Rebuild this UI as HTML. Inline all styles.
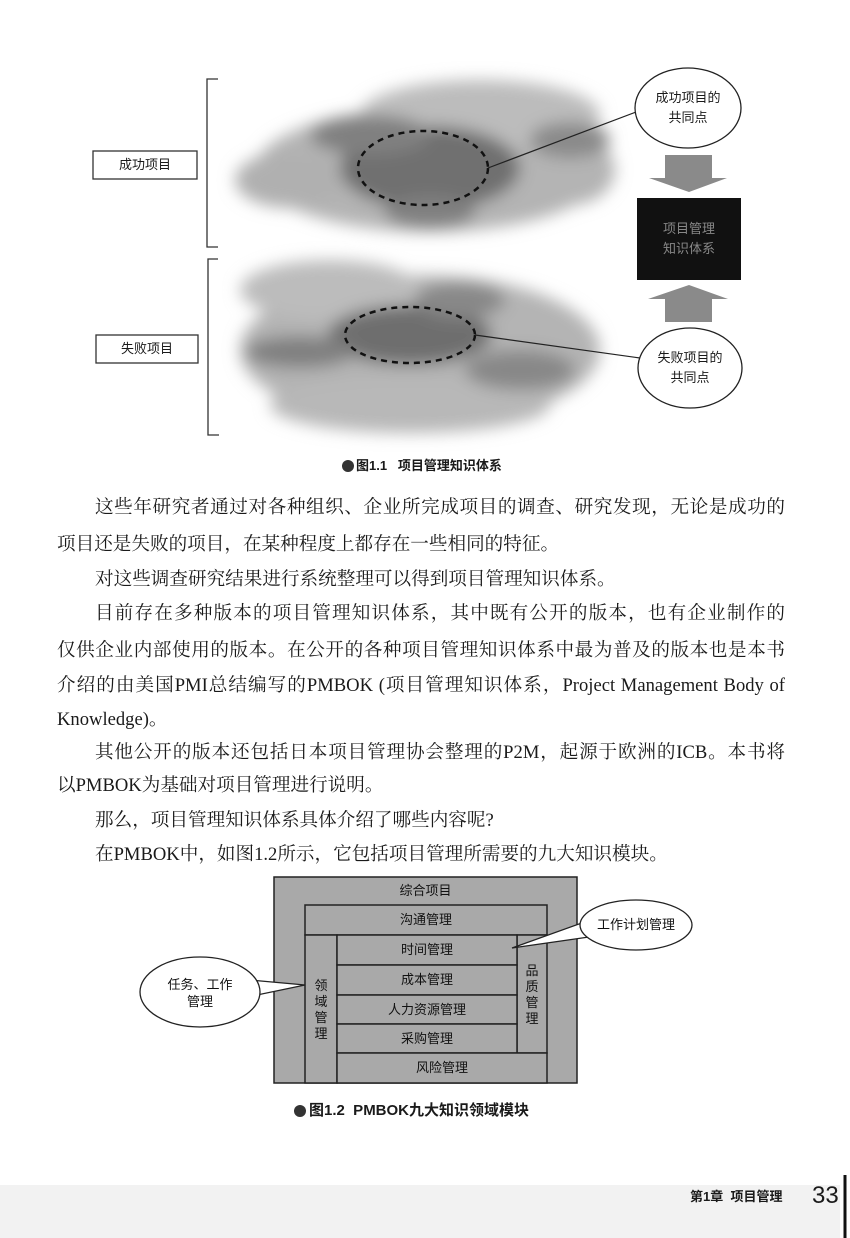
<!DOCTYPE html>
<html><head><meta charset="utf-8"><style>
html,body{margin:0;padding:0;background:#fff}
body{width:850px;height:1238px;position:relative;overflow:hidden;font-family:"Liberation Serif","Noto Serif CJK SC",serif;color:#1a1a1a}
.l{position:absolute;font-size:18.6px;line-height:24px;white-space:nowrap;height:24px}
.j{text-align:justify;text-align-last:justify}
.s{font-family:"Liberation Sans","Noto Sans CJK SC",sans-serif}
</style></head><body>
<svg width="850" height="1238" style="position:absolute;left:0;top:0">
<defs>
<filter id="b" x="-30%" y="-30%" width="160%" height="160%"><feGaussianBlur stdDeviation="8"/></filter>
</defs>
<path d="M218 79 H207 V247 H218" fill="none" stroke="#333" stroke-width="1.3"/>
<path d="M218 259 H208 V435 H219" fill="none" stroke="#333" stroke-width="1.3"/>
<rect x="93" y="151" width="104" height="28" fill="#fff" stroke="#333" stroke-width="1.3"/>
<rect x="96" y="335" width="102" height="28" fill="#fff" stroke="#333" stroke-width="1.3"/>
<g filter="url(#b)">
<ellipse cx="430" cy="170" rx="175" ry="62" fill="#b4b4b4"/>
<ellipse cx="480" cy="115" rx="120" ry="35" fill="#bcbcbc"/>
<ellipse cx="290" cy="180" rx="55" ry="28" fill="#b0b0b0"/>
<ellipse cx="570" cy="170" rx="45" ry="35" fill="#b4b4b4"/>
<ellipse cx="430" cy="168" rx="90" ry="42" fill="#707070"/>
<ellipse cx="370" cy="135" rx="60" ry="20" fill="#808080"/>
<ellipse cx="570" cy="140" rx="40" ry="18" fill="#8a8a8a"/>
<ellipse cx="430" cy="212" rx="45" ry="16" fill="#808080"/>
</g>
<g filter="url(#b)">
<ellipse cx="420" cy="350" rx="180" ry="75" fill="#b4b4b4"/>
<ellipse cx="330" cy="290" rx="90" ry="30" fill="#bcbcbc"/>
<ellipse cx="410" cy="405" rx="140" ry="28" fill="#b8b8b8"/>
<ellipse cx="410" cy="335" rx="82" ry="30" fill="#6e6e6e"/>
<ellipse cx="300" cy="352" rx="55" ry="16" fill="#808080"/>
<ellipse cx="460" cy="300" rx="45" ry="18" fill="#888"/>
<ellipse cx="520" cy="370" rx="55" ry="20" fill="#888"/>
</g>
<ellipse cx="423" cy="168" rx="65" ry="37" fill="none" stroke="#111" stroke-width="2.5" stroke-dasharray="6,5"/>
<ellipse cx="410" cy="335" rx="65" ry="28" fill="none" stroke="#111" stroke-width="2.5" stroke-dasharray="6,5"/>
<line x1="488" y1="168" x2="636" y2="112" stroke="#222" stroke-width="1.2"/>
<line x1="475" y1="335" x2="640" y2="358" stroke="#222" stroke-width="1.2"/>
<ellipse cx="688" cy="108" rx="53" ry="40" fill="#fff" stroke="#222" stroke-width="1.3"/>
<ellipse cx="690" cy="368" rx="52" ry="40" fill="#fff" stroke="#222" stroke-width="1.3"/>
<polygon points="665,155 712,155 712,178 727,178 689,192 649,178 665,178" fill="#8a8a8a"/>
<polygon points="689,285 728,299 712,299 712,322 665,322 665,299 648,299" fill="#8a8a8a"/>
<rect x="637" y="198" width="104" height="82" fill="#111"/>
<g stroke="#222" stroke-width="1.5" fill="#a9a9a9">
<rect x="274" y="877" width="303" height="206"/>
<rect x="305" y="905" width="242" height="30"/>
<rect x="305" y="935" width="32" height="148"/>
<rect x="517" y="935" width="30" height="118"/>
<rect x="337" y="935" width="180" height="30"/>
<rect x="337" y="965" width="180" height="30"/>
<rect x="337" y="995" width="180" height="29"/>
<rect x="337" y="1024" width="180" height="29"/>
<rect x="337" y="1053" width="210" height="30"/>
</g>
<polygon points="512,948 590,920 596,936" fill="#fff" stroke="#222" stroke-width="1.2"/>
<ellipse cx="636" cy="925" rx="56" ry="25" fill="#fff" stroke="#222" stroke-width="1.3"/>
<polygon points="305,985 250,980 252,996" fill="#fff" stroke="#222" stroke-width="1.2"/>
<ellipse cx="200" cy="992" rx="60" ry="35" fill="#fff" stroke="#222" stroke-width="1.3"/>
<rect x="0" y="1185" width="840" height="53" fill="#f2f2f2"/>
<line x1="845" y1="1175" x2="845" y2="1238" stroke="#111" stroke-width="3"/>
<circle cx="348" cy="466" r="6" fill="#333"/>
<circle cx="300" cy="1111" r="6" fill="#333"/>
</svg>
<div class="s" style="position:absolute;left:93px;top:151px;width:104px;line-height:28px;text-align:center;font-size:13px">成功项目</div>
<div class="s" style="position:absolute;left:96px;top:335px;width:102px;line-height:28px;text-align:center;font-size:13px">失败项目</div>
<div class="s" style="position:absolute;left:635px;top:88px;width:106px;text-align:center;font-size:13px;line-height:20px">成功项目的<br>共同点</div>
<div class="s" style="position:absolute;left:638px;top:348px;width:104px;text-align:center;font-size:13px;line-height:20px">失败项目的<br>共同点</div>
<div class="s" style="position:absolute;left:637px;top:219px;width:104px;text-align:center;font-size:13px;line-height:20px;color:#888">项目管理<br>知识体系</div>
<div class="s" style="position:absolute;left:356px;top:456px;font-size:13px;font-weight:bold;line-height:20px">图1.1&nbsp;&nbsp;&nbsp;项目管理知识体系</div>

<div class="l j" style="left:95px;top:496px;width:690px">这些年研究者通过对各种组织、企业所完成项目的调查、研究发现，无论是成功的</div>
<div class="l" style="left:57px;top:533px">项目还是失败的项目，在某种程度上都存在一些相同的特征。</div>
<div class="l" style="left:95px;top:568px">对这些调查研究结果进行系统整理可以得到项目管理知识体系。</div>
<div class="l j" style="left:95px;top:602px;width:690px">目前存在多种版本的项目管理知识体系，其中既有公开的版本，也有企业制作的</div>
<div class="l j" style="left:57px;top:639px;width:728px">仅供企业内部使用的版本。在公开的各种项目管理知识体系中最为普及的版本也是本书</div>
<div class="l j" style="left:57px;top:674px;width:728px">介绍的由美国PMI总结编写的PMBOK (项目管理知识体系，Project Management Body of</div>
<div class="l" style="left:57px;top:708px">Knowledge)。</div>
<div class="l j" style="left:95px;top:741px;width:690px">其他公开的版本还包括日本项目管理协会整理的P2M，起源于欧洲的ICB。本书将</div>
<div class="l" style="left:57px;top:774px">以PMBOK为基础对项目管理进行说明。</div>
<div class="l" style="left:95px;top:809px">那么，项目管理知识体系具体介绍了哪些内容呢?</div>
<div class="l" style="left:95px;top:843px">在PMBOK中，如图1.2所示，它包括项目管理所需要的九大知识模块。</div>

<div class="s" style="position:absolute;font-size:13px;line-height:30px;color:#111">
<div style="position:absolute;left:274px;top:876px;width:303px;text-align:center">综合项目</div>
<div style="position:absolute;left:305px;top:905px;width:242px;text-align:center">沟通管理</div>
<div style="position:absolute;left:337px;top:935px;width:180px;text-align:center">时间管理</div>
<div style="position:absolute;left:337px;top:965px;width:180px;text-align:center">成本管理</div>
<div style="position:absolute;left:337px;top:995px;width:180px;text-align:center">人力资源管理</div>
<div style="position:absolute;left:337px;top:1024px;width:180px;text-align:center">采购管理</div>
<div style="position:absolute;left:337px;top:1053px;width:210px;text-align:center">风险管理</div>
<div style="position:absolute;left:305px;top:978px;width:32px;text-align:center;line-height:16px">领<br>域<br>管<br>理</div>
<div style="position:absolute;left:517px;top:963px;width:30px;text-align:center;line-height:16px">品<br>质<br>管<br>理</div>
<div style="position:absolute;left:580px;top:910px;width:112px;text-align:center">工作计划管理</div>
<div style="position:absolute;left:140px;top:976px;width:120px;text-align:center;line-height:17px">任务、工作<br>管理</div>
</div>
<div class="s" style="position:absolute;left:309px;top:1100px;font-size:15px;font-weight:bold;line-height:22px">图1.2&nbsp;&nbsp;PMBOK九大知识领域模块</div>
<div class="s" style="position:absolute;left:690px;top:1185px;font-size:13px;font-weight:bold;line-height:24px">第1章&nbsp;&nbsp;项目管理</div>
<div class="s" style="position:absolute;left:812px;top:1181px;font-size:24px;line-height:30px">33</div>
</body></html>
